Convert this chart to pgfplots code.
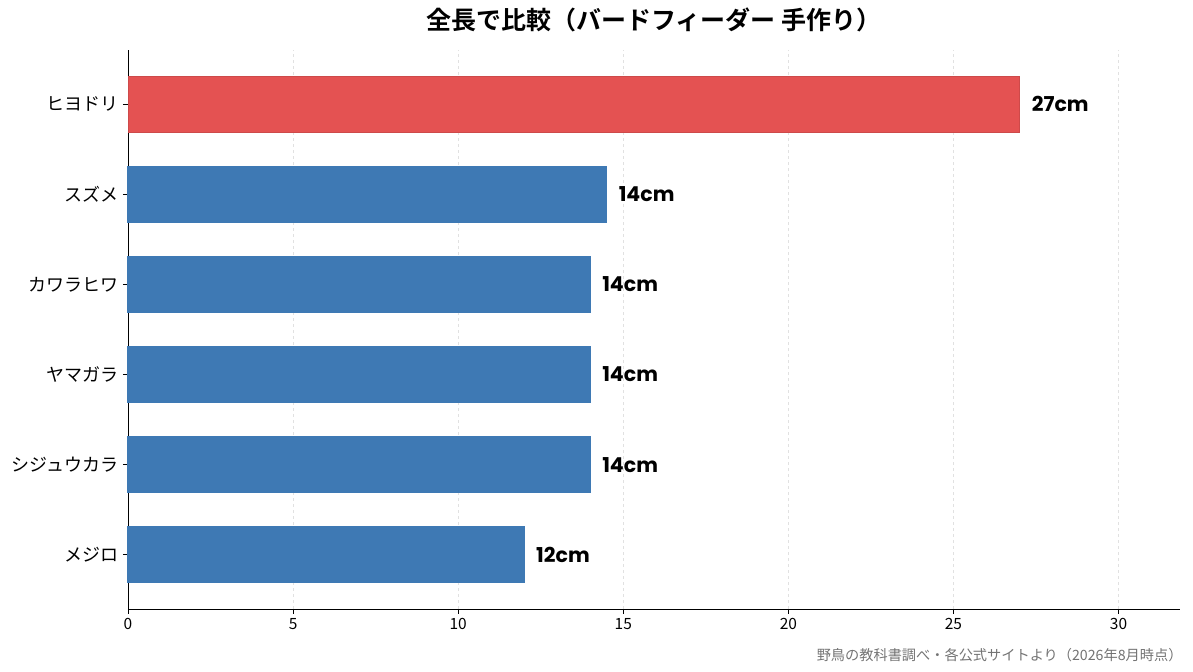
\documentclass[border=0pt]{standalone}
\usepackage{pgfplots}
\pgfplotsset{compat=1.18}
\usepackage{pgfplotstable}
\usepackage{fontspec}
\setmainfont{Noto Sans CJK JP}[BoldFont={Noto Sans CJK JP Bold}]
\newfontfamily\pop{Poppins}[BoldFont={Poppins Bold}]
\definecolor{barblue}{RGB}{62,121,180}
\definecolor{barred}{RGB}{228,82,82}
\definecolor{gridgray}{RGB}{225,225,225}
\pgfplotstableread{
y x lab
0 12 12cm
1 14 14cm
2 14 14cm
3 14 14cm
4 14.5 14cm
}\bluedata
\pgfplotstableread{
y x lab
5 27 27cm
}\reddata
\begin{document}
\begin{tikzpicture}
\begin{axis}[
  scale only axis,
  width=1052pt, height=559pt,
  xmin=0, xmax=31.86,
  ymin=-0.6, ymax=5.6,
  xbar, bar width=56pt, bar shift=0pt,
  axis x line*=bottom, axis y line*=left,
  axis line style={black, line width=0.8pt},
  xtick={0,5,10,15,20,25,30},
  ytick={0,1,2,3,4,5},
  yticklabels={メジロ,シジュウカラ,ヤマガラ,カワラヒワ,スズメ,ヒヨドリ},
  xmajorgrids, major grid style={gridgray, dashed, line width=0.6pt},
  tick style={black, line width=0.8pt},
  major tick length=5pt,
  tick align=outside,
  /pgf/number format/assume math mode=true,
  x tick label style={font=\fontsize{15.5}{17}\selectfont, yshift=-1pt},
  y tick label style={font=\fontsize{18}{20}\selectfont, xshift=-1pt},
  nodes near coords,
  point meta=explicit symbolic,
  every node near coord/.append style={anchor=west, xshift=12pt, inner sep=0pt, font=\pop\bfseries\fontsize{20.5}{22}\selectfont, text=black},
  clip=false,
]
\addplot[fill=barblue, draw=barblue, line width=0pt] table[x=x, y=y, meta=lab] {\bluedata};
\addplot[fill=barred, draw=barred!90!black, line width=0.6pt] table[x=x, y=y, meta=lab] {\reddata};
\end{axis}
\node[font=\bfseries\fontsize{25}{27}\selectfont, anchor=center] at ([xshift=0pt, yshift=30pt]current axis.north) {全長で比較（バードフィーダー 手作り）};
\node[font=\fontsize{14.2}{16}\selectfont, text=black!55, anchor=east] at ([xshift=6pt, yshift=-46pt]current axis.south east) {野鳥の教科書調べ・各公式サイトより（2026年8月時点）};
\path ([xshift=-128pt,yshift=-63pt]current axis.south west) rectangle ([xshift=13pt,yshift=50pt]current axis.north east);
\end{tikzpicture}
\end{document}
